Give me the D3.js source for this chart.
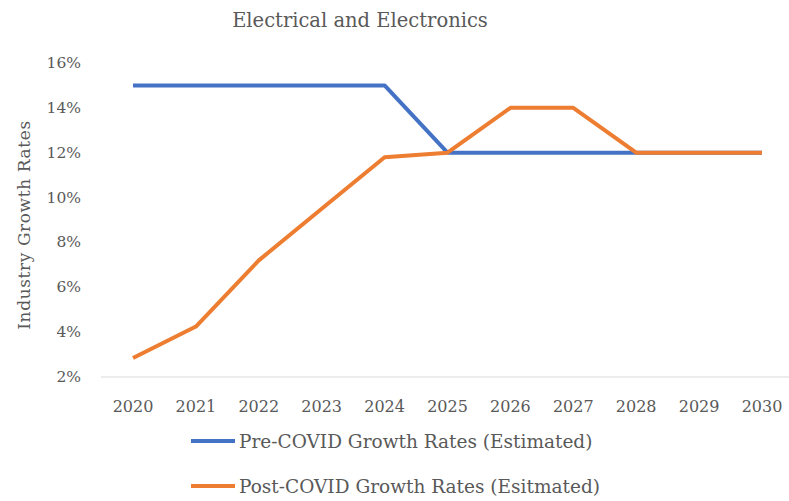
<!DOCTYPE html>
<html>
<head>
<meta charset="utf-8">
<script src="https://cdn.jsdelivr.net/npm/d3@7"></script>
<style>
  body { margin: 0; background: #fff; }
  text { font-family: "DejaVu Serif", "Liberation Serif", serif; fill: #595959; }
</style>
</head>
<body>
<div class="output"></div>
<script>
// Данные
const years = ["2020", "2021", "2022", "2023", "2024", "2025", "2026", "2027", "2028", "2029", "2030"];
const preCovid = [15, 15, 15, 15, 15, 12, 12, 12, 12, 12, 12];
const postCovid = [2.85, 4.25, 7.2, 9.5, 11.8, 12, 14, 14, 12, 12, 12];
const yTicks = [2, 4, 6, 8, 10, 12, 14, 16];
const seriesNames = ["Pre-COVID Growth Rates (Estimated)", "Post-COVID Growth Rates (Esitmated)"];
const colors = ["#4472c4", "#ed7d31"];

const width = 789, height = 501;

const svg = d3.select(".output")
    .append("svg")
    .attr("width", width)
    .attr("height", height);

// Ось X
const x = d3.scalePoint()
    .domain(years)
    .range([133, 762]);

// Ось Y
const y = d3.scaleLinear()
    .domain([2, 16])
    .range([377, 63]);

svg.append("text")
    .text("Electrical and Electronics")
    .attr("x", 360)
    .attr("y", 27)
    .attr("text-anchor", "middle")
    .style("font-size", "19.5px");

// подписи оси Y
svg.append("g")
    .selectAll("text")
    .data(yTicks)
    .enter()
    .append("text")
    .attr("x", 81)
    .attr("y", (d) => y(d) + 5)
    .attr("text-anchor", "end")
    .style("font-size", "15.5px")
    .text((d) => d + "%");

svg.append("text")
    .text("Industry Growth Rates")
    .attr("transform", "translate(30," + ((y(2) + y(16)) / 2 + 5) + ") rotate(-90)")
    .attr("text-anchor", "middle")
    .style("font-size", "17px")
    .style("letter-spacing", "0.6px");

// линия оси X
svg.append("line")
    .attr("x1", 101)
    .attr("x2", 793)
    .attr("y1", y(2))
    .attr("y2", y(2))
    .attr("stroke", "#d9d9d9")
    .attr("stroke-width", 1);

svg.append("g")
    .selectAll("text")
    .data(years)
    .enter()
    .append("text")
    .attr("x", (d) => x(d))
    .attr("y", 412)
    .attr("text-anchor", "middle")
    .style("font-size", "16px")
    .text((d) => d);

// Линии
const line = d3.line()
    .x((d, i) => x(years[i]))
    .y((d) => y(d));

[preCovid, postCovid].forEach((vals, i) => {
    svg.append("path")
        .attr("d", line(vals))
        .attr("fill", "none")
        .attr("stroke", colors[i])
        .attr("stroke-width", 4)
        .attr("stroke-linejoin", "round");
});

// Легенда
const legend = svg.append("g")
    .selectAll("g")
    .data(seriesNames)
    .enter()
    .append("g")
    .attr("transform", (d, i) => "translate(191," + (441 + i * 45) + ")");

legend.append("line")
    .attr("x1", 0)
    .attr("x2", 44)
    .attr("stroke", (d, i) => colors[i])
    .attr("stroke-width", 4);

legend.append("text")
    .attr("x", 48)
    .attr("y", 7)
    .style("font-size", "18.5px")
    .text((d) => d);
</script>
</body>
</html>
